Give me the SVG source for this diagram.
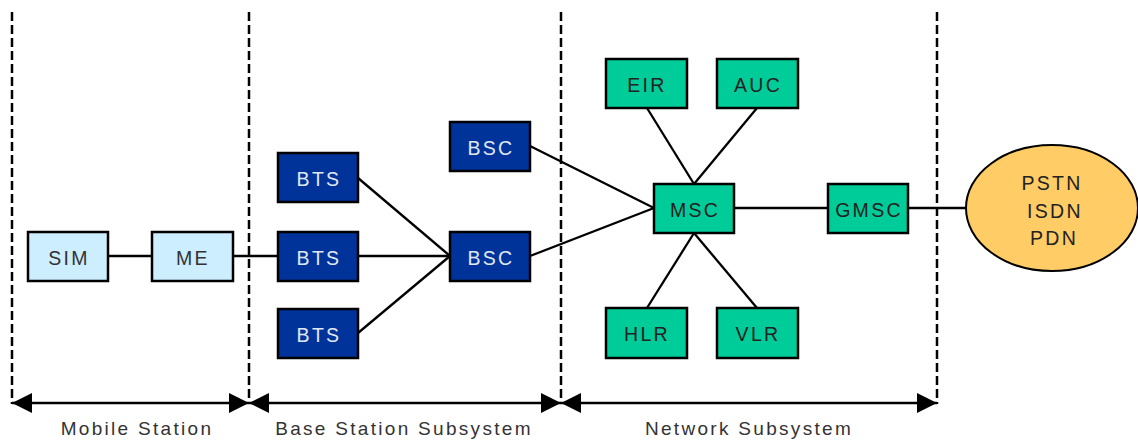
<svg xmlns="http://www.w3.org/2000/svg" width="1138" height="440" viewBox="0 0 1138 440">
<style>
  .box { stroke: #000; stroke-width: 2.5; }
  .ms { fill: #CCEEFF; }
  .bss { fill: #003399; }
  .nss { fill: #00CC99; }
  .lbl { font-family: "Liberation Sans", Arial, sans-serif; font-size: 19.5px; letter-spacing: 2.3px; text-anchor: middle; }
  .dark { fill: #222; }
  .light { fill: #E0E8F4; }
  .ms-t { fill: #333; }
  .conn line { stroke: #000; stroke-width: 2.3; }
  .sep { stroke: #000; stroke-width: 2.5; stroke-dasharray: 9 4; }
  .dim { stroke: #000; stroke-width: 2.5; }
  .cap { font-family: "Liberation Sans", Arial, sans-serif; font-size: 19px; letter-spacing: 2.3px; text-anchor: middle; fill: #333; }
</style>
<defs>
  <marker id="ah" viewBox="0 0 20 20" refX="20" refY="10" markerWidth="20" markerHeight="20" markerUnits="userSpaceOnUse" orient="auto-start-reverse">
    <path d="M0,0 L20,10 L0,20 Z" fill="#000"/>
  </marker>
</defs>
<rect width="1138" height="440" fill="#fff"/>

<g id="separators">
  <line class="sep" x1="12" y1="12" x2="12" y2="404"/>
  <line class="sep" x1="249" y1="12" x2="249" y2="404"/>
  <line class="sep" x1="561" y1="12" x2="561" y2="404"/>
  <line class="sep" x1="937" y1="12" x2="937" y2="404"/>
</g>

<g id="connectors" class="conn">
  <line x1="108" y1="256" x2="152" y2="256"/>
  <line x1="233" y1="256" x2="278" y2="256"/>
  <line x1="358" y1="178" x2="450" y2="256"/>
  <line x1="358" y1="256" x2="450" y2="256"/>
  <line x1="358" y1="333" x2="450" y2="256"/>
  <line x1="530" y1="146" x2="654" y2="208"/>
  <line x1="530" y1="256" x2="654" y2="208"/>
  <line x1="734" y1="208" x2="828" y2="208"/>
  <line x1="908" y1="208" x2="966" y2="208"/>
  <line x1="647" y1="108" x2="694" y2="184"/>
  <line x1="757" y1="108" x2="694" y2="184"/>
  <line x1="694" y1="233" x2="647" y2="308"/>
  <line x1="694" y1="233" x2="757" y2="308"/>
</g>

<g id="dimensions">
  <line class="dim" x1="12" y1="403" x2="249" y2="403" marker-start="url(#ah)" marker-end="url(#ah)"/>
  <line class="dim" x1="249" y1="403" x2="561" y2="403" marker-start="url(#ah)" marker-end="url(#ah)"/>
  <line class="dim" x1="561" y1="403" x2="937" y2="403" marker-start="url(#ah)" marker-end="url(#ah)"/>
  <text class="cap" x="137" y="435">Mobile Station</text>
  <text class="cap" x="404" y="435">Base Station Subsystem</text>
  <text class="cap" x="749" y="435">Network Subsystem</text>
</g>

<g id="SIM"><rect class="box ms" x="28" y="232" width="80" height="49"/><text class="lbl ms-t" x="69" y="265">SIM</text></g>
<g id="ME"><rect class="box ms" x="152" y="232" width="81" height="49"/><text class="lbl ms-t" x="193" y="265">ME</text></g>

<g id="BTS1"><rect class="box bss" x="278" y="153" width="80" height="49"/><text class="lbl light" x="319" y="186">BTS</text></g>
<g id="BTS2"><rect class="box bss" x="278" y="232" width="80" height="49"/><text class="lbl light" x="319" y="265">BTS</text></g>
<g id="BTS3"><rect class="box bss" x="278" y="309" width="80" height="49"/><text class="lbl light" x="319" y="342">BTS</text></g>
<g id="BSC1"><rect class="box bss" x="450" y="122" width="80" height="49"/><text class="lbl light" x="491" y="155">BSC</text></g>
<g id="BSC2"><rect class="box bss" x="450" y="232" width="80" height="49"/><text class="lbl light" x="491" y="265">BSC</text></g>

<g id="EIR"><rect class="box nss" x="606" y="59" width="81" height="49"/><text class="lbl dark" x="647" y="92">EIR</text></g>
<g id="AUC"><rect class="box nss" x="717" y="59" width="81" height="49"/><text class="lbl dark" x="758" y="92">AUC</text></g>
<g id="MSC"><rect class="box nss" x="654" y="184" width="80" height="49"/><text class="lbl dark" x="695" y="217">MSC</text></g>
<g id="GMSC"><rect class="box nss" x="828" y="184" width="80" height="49"/><text class="lbl dark" x="869" y="217">GMSC</text></g>
<g id="HLR"><rect class="box nss" x="606" y="308" width="81" height="50"/><text class="lbl dark" x="647" y="341">HLR</text></g>
<g id="VLR"><rect class="box nss" x="717" y="308" width="81" height="50"/><text class="lbl dark" x="758" y="341">VLR</text></g>

<g id="PSTN">
  <ellipse cx="1052" cy="208" rx="86" ry="63" fill="#FFCC66" stroke="#000" stroke-width="2"/>
  <text class="lbl dark" x="1052" y="190">PSTN</text>
  <text class="lbl dark" x="1055" y="218">ISDN</text>
  <text class="lbl dark" x="1054" y="245">PDN</text>
</g>
</svg>
